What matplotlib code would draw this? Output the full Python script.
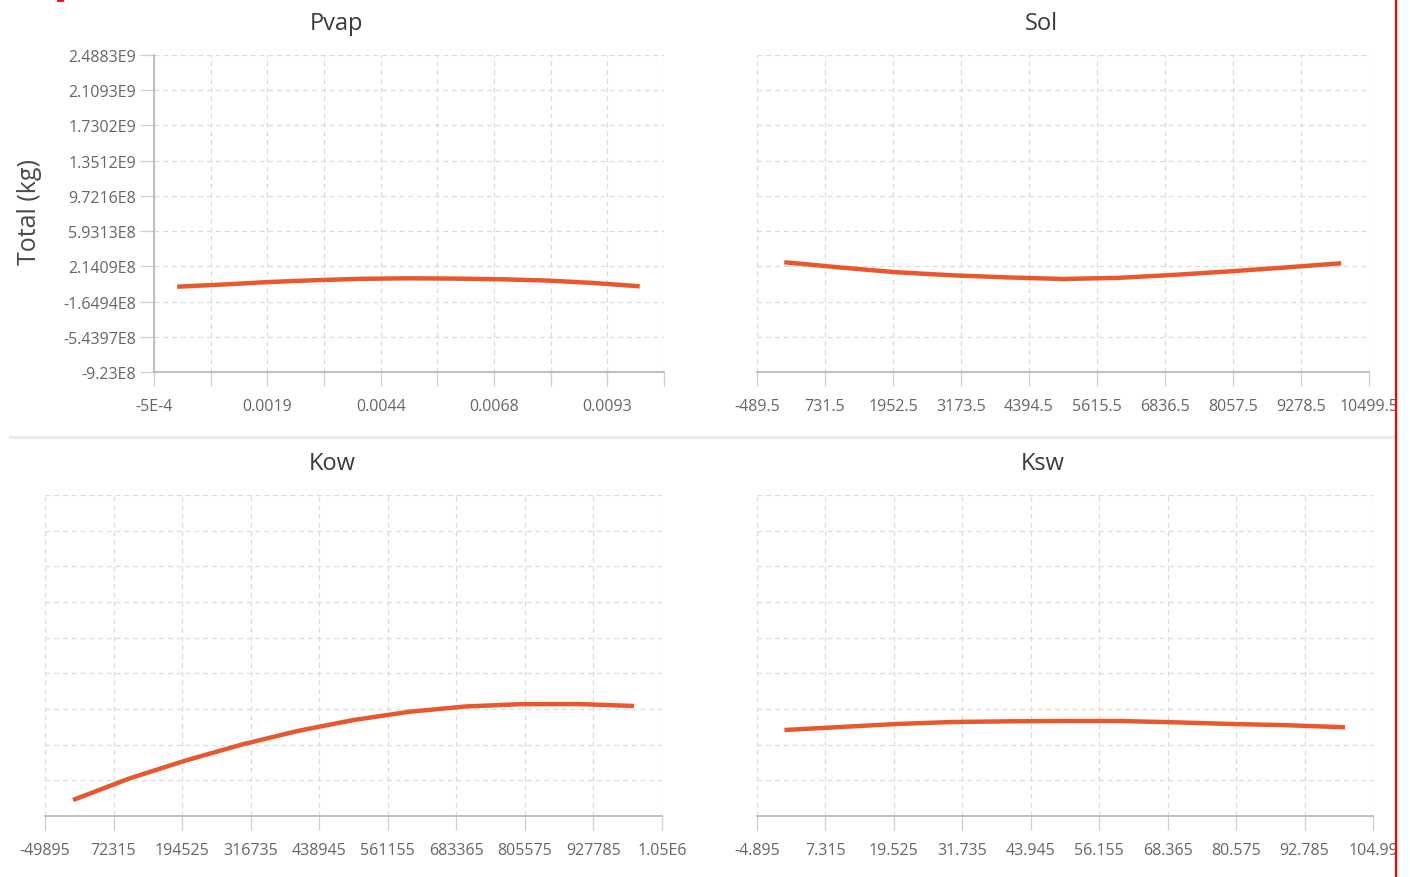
import matplotlib
matplotlib.use("Agg")
import matplotlib.pyplot as plt
from matplotlib.lines import Line2D
from matplotlib.patches import Rectangle

# ---------------- data ----------------
pvap_x = [0.0, 0.001, 0.002, 0.003, 0.004, 0.005, 0.006, 0.007, 0.008, 0.009, 0.010]
pvap_y = [-5.0e6, 1.87e7, 4.56e7, 6.5e7, 8.0e7, 8.5e7, 8.2e7, 7.5e7, 6.1e7, 3.5e7, -1.0e6]

sol_x = [0, 1000, 2000, 3000, 4000, 5000, 6000, 7000, 8000, 9000, 10000]
sol_y = [2.58e8, 2.02e8, 1.51e8, 1.18e8, 9.5e7, 7.8e7, 9.0e7, 1.22e8, 1.60e8, 2.02e8, 2.47e8]

kow_x = [0, 100000, 200000, 300000, 400000, 500000, 600000, 700000, 800000, 900000, 1000000]
kow_y = [-7.53e8, -5.25e8, -3.35e8, -1.65e8, -2.0e7, 9.7e7, 1.85e8, 2.41e8, 2.66e8, 2.67e8, 2.46e8]

ksw_x = [0, 10, 20, 30, 40, 50, 60, 70, 80, 90, 100]
ksw_y = [-9.2e6, 2.27e7, 5.46e7, 7.6e7, 8.3e7, 8.65e7, 8.65e7, 7.2e7, 5.46e7, 4.1e7, 1.95e7]

titles = ["Pvap", "Sol", "Kow", "Ksw"]
y_label = "Total (kg)"

y_tick_values = [-9.23e8, -5.4397e8, -1.6494e8, 2.1409e8, 5.9313e8,
                 9.7216e8, 1.3512e9, 1.7302e9, 2.1093e9, 2.4883e9]
y_tick_labels = ["-9.23E8", "-5.4397E8", "-1.6494E8", "2.1409E8", "5.9313E8",
                 "9.7216E8", "1.3512E9", "1.7302E9", "2.1093E9", "2.4883E9"]

pvap_ticks = ["-5E-4", "", "0.0019", "", "0.0044", "", "0.0068", "", "0.0093", ""]
sol_ticks = ["-489.5", "731.5", "1952.5", "3173.5", "4394.5", "5615.5",
             "6836.5", "8057.5", "9278.5", "10499.5"]
kow_ticks = ["-49895", "72315", "194525", "316735", "438945", "561155",
             "683365", "805575", "927785", "1.05E6"]
ksw_ticks = ["-4.895", "7.315", "19.525", "31.735", "43.945", "56.155",
             "68.365", "80.575", "92.785", "104.99"]

x_start = [-0.0005, -489.5, -49895, -4.895]
x_step = [0.001225, 1221.0, 122210.0, 12.21]

# ---------------- style ----------------
plt.rcParams['font.family'] = ['Open Sans', 'DejaVu Sans']
LINE_COLOR = '#E8582C'
GRID_COLOR = '#dcdcdc'
AXIS_COLOR = '#b5b5b5'
TICK_TEXT = '#666666'

W, H = 1410, 878
fig = plt.figure(figsize=(W / 100, H / 100), dpi=100)
fig.patch.set_facecolor('white')


def rect(l, r, t, b):
    return [l / W, 1 - b / H, (r - l) / W, (b - t) / H]


rects = [rect(154, 664, 56, 373), rect(757, 1369, 56, 373),
         rect(45, 662, 496, 817), rect(757, 1373, 496, 817)]
title_pos = [(337, 24), (1041, 24), (332, 464), (1043, 464)]
xs = [pvap_x, sol_x, kow_x, ksw_x]
ys = [pvap_y, sol_y, kow_y, ksw_y]
xticklabels = [pvap_ticks, sol_ticks, kow_ticks, ksw_ticks]

for i in range(4):
    ax = fig.add_axes(rects[i])
    ticks = [x_start[i] + k * x_step[i] for k in range(len(xticklabels[i]))]
    ax.set_xlim(ticks[0], ticks[-1])
    ax.set_ylim(y_tick_values[0], y_tick_values[-1])
    ax.set_xticks(ticks)
    ax.set_xticklabels(xticklabels[i])
    ax.set_yticks(y_tick_values)
    ax.grid(True, color=GRID_COLOR, linestyle=(0, (4, 3)), linewidth=0.9)
    ax.set_axisbelow(True)
    for s in ['top', 'right']:
        ax.spines[s].set_visible(False)
    ax.spines['bottom'].set_color(AXIS_COLOR)
    ax.spines['bottom'].set_linewidth(1.2)
    ax.tick_params(axis='x', length=10, width=0.9, color='#cfcfcf',
                   pad=8.5, labelsize=11.5, labelcolor=TICK_TEXT)
    if i == 0:
        ax.spines['left'].set_color(AXIS_COLOR)
        ax.spines['left'].set_linewidth(1.2)
        ax.set_yticklabels(y_tick_labels)
        ax.tick_params(axis='y', length=10, width=0.9, color='#cfcfcf',
                       pad=3, labelsize=11.5, labelcolor=TICK_TEXT)
    else:
        ax.spines['left'].set_visible(False)
        ax.tick_params(axis='y', length=0, labelleft=False)
    ax.plot(xs[i], ys[i], color=LINE_COLOR, linewidth=3.2,
            solid_capstyle='butt', solid_joinstyle='round', zorder=3)
    fig.text(title_pos[i][0] / W, 1 - title_pos[i][1] / H, titles[i],
             ha='center', va='center', fontsize=17, color='#3a3a3a')

fig.text(30 / W, 1 - 212 / H, y_label, rotation=90, ha='center', va='center',
         fontsize=18, color='#4a4a4a')

# divider band between rows
fig.add_artist(Rectangle((9 / W, 1 - 440 / H), (1396 - 9) / W, 3 / H,
                         transform=fig.transFigure, facecolor='#ececec',
                         edgecolor='none', zorder=0))

# white margin right of red border and the red border itself
fig.add_artist(Rectangle((1397 / W, 0), (W - 1397) / W, 1,
                         transform=fig.transFigure, facecolor='white',
                         edgecolor='none', zorder=10))
fig.add_artist(Line2D([1396 / W, 1396 / W], [0, 1], transform=fig.transFigure,
                      color='#ff0000', linewidth=1.6, zorder=11))
fig.add_artist(Line2D([58 / W, 62 / W], [1 - 1 / H, 1 - 1 / H],
                      transform=fig.transFigure, color='#ff0000',
                      linewidth=2, zorder=11))

fig.savefig('out.png', dpi=100, facecolor='white')
